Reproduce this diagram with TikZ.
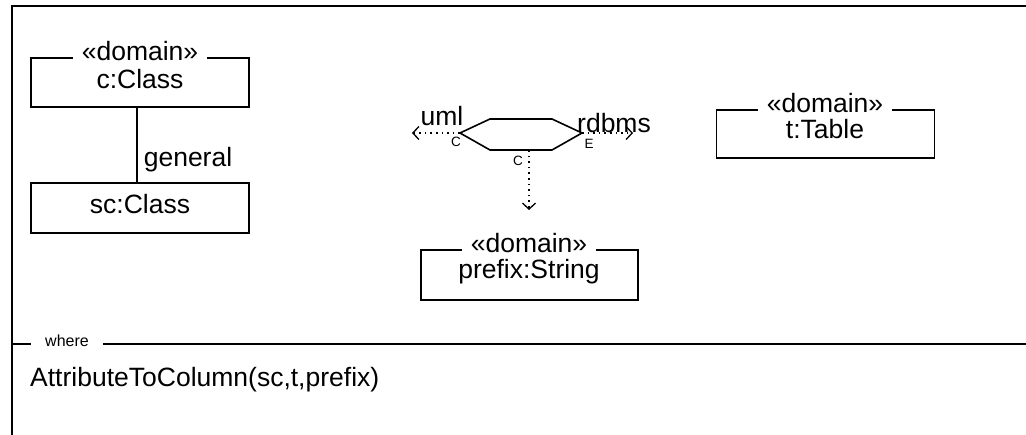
\documentclass[tikz,border=0pt]{standalone}
\usepackage{fontspec}
\setmainfont{Liberation Sans}
\usetikzlibrary{arrows.meta}

\tikzset{
  objbox/.style={draw, line width=1.6pt, minimum width=218pt, minimum height=49pt},
  objname/.style={font=\fontsize{26.5}{30}\selectfont, inner sep=0pt},
  stereo/.style={fill=white, font=\fontsize{26.5}{30}\selectfont, inner xsep=9pt, inner ysep=0pt, text depth=0pt},
  tiny/.style={font=\fontsize{13.5}{15}\selectfont, inner sep=0pt},
  dep/.style={line width=1.3pt, dash pattern=on 1.6pt off 4pt, -{Straight Barb[length=6pt,width=13pt,line width=1.3pt]}}
}

\begin{document}
\begin{tikzpicture}[x=1pt, y=-1pt]
    \useasboundingbox (0,0) rectangle (1026,435);

    % frame and where compartment
    \draw[line width=2pt] (1026,6) -- (12,6) -- (12,435);
    \draw[line width=1.6pt] (12,344) -- (1026,344);
    \node[fill=white, font=\fontsize{16}{18}\selectfont, inner xsep=14pt, inner ysep=1pt] (where) at (67,341) {where};
    \node[objname, anchor=west] (rel) at (30,380) {AttributeToColumn(sc,t,prefix)};

    % c and sc
    \node[objbox] (c) at (140,82.5) {};
    \node[stereo] (cst) at (140,51) {«domain»};
    \node[objname] (cname) at (140,79) {c:Class};
    \node[objbox, minimum height=50pt] (sc) at (140,208) {};
    \node[objname] (scname) at (140,204) {sc:Class};
    \draw[line width=1.6pt] ([xshift=-3pt]c.south) -- ([xshift=-3pt]sc.north)
      node[objname, right, pos=0.7, xshift=6pt] (gen) {general};

    % relation
    \coordinate (hl) at (460,133);
    \coordinate (htl) at (490,119);
    \coordinate (htr) at (552,119);
    \coordinate (hr) at (582,133);
    \coordinate (hbr) at (552,150);
    \coordinate (hbl) at (490,150);
    \coordinate (hb) at (529,150);
    \draw[line width=1.6pt] (hl) -- (htl) -- (htr) -- (hr) -- (hbr) -- (hbl) -- cycle;

    \coordinate (umlend) at (412,133);
    \coordinate (rdbend) at (633,133);
    \coordinate (prefend) at (529,210);
    \draw[dep] (hl) -- (umlend);
    \draw[dep] (hr) -- (rdbend);
    \draw[dep] (hb) -- (prefend);
    \node[objname] (uml) at (442,116) {uml};
    \node[objname] (rdbms) at (614,123) {rdbms};
    \node[tiny] (kl) at (456,142) {C};
    \node[tiny] (kr) at (589,144) {E};
    \node[tiny] (kb) at (518,161) {C};

    % t and prefix
    \node[objbox, minimum height=48pt] (t) at (825.5,134) {};
    \node[stereo] (tst) at (825,103) {«domain»};
    \node[objname] (tname) at (825,129) {t:Table};
    \node[objbox, minimum width=217pt, minimum height=50pt] (pre) at (529.5,275) {};
    \node[stereo] (prest) at (529,243) {«domain»};
    \node[objname] (prename) at (529,272) {prefix:String};
\end{tikzpicture}
\end{document}
